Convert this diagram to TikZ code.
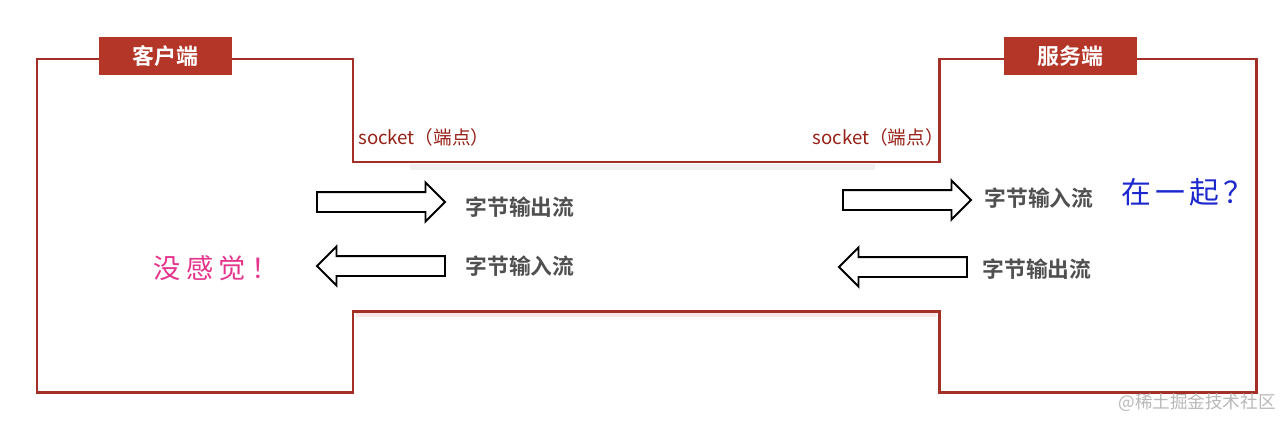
\documentclass[tikz,border=0pt]{standalone}
\usepackage{fontspec}
\setmainfont{Noto Sans CJK SC}[BoldFont={Noto Sans CJK SC Bold}]
\usetikzlibrary{shapes.arrows}
\definecolor{frameRed}{RGB}{163,48,38}
\definecolor{tagRed}{RGB}{180,54,40}
\definecolor{socketRed}{RGB}{150,32,22}
\definecolor{streamGray}{RGB}{80,80,80}
\definecolor{notePink}{RGB}{228,52,140}
\definecolor{noteBlue}{RGB}{28,40,205}
\tikzset{
	tagbox/.style={fill=tagRed, text=white, font=\fontsize{12.5}{14}\selectfont\bfseries, minimum width=2.66cm, minimum height=0.76cm, inner sep=0pt},
	blockarrow/.style={draw=black, line width=1.1pt, fill=white, single arrow, single arrow head extend=0.19cm, minimum height=2.56cm, inner sep=0.18cm, outer sep=0pt, anchor=tail},
	streamtext/.style={text=streamGray, font=\fontsize{12.4}{14}\selectfont\bfseries, inner sep=0pt},
	sockettext/.style={text=socketRed, font=\fontsize{10.6}{12}\selectfont, inner sep=0pt}
}

\begin{document}
\begin{tikzpicture}[x=0.02cm, y=-0.02cm]
			%%%%% START %%%%%
			\useasboundingbox (0, 0) rectangle (1285, 420);
			
			% faint shadows under the channel lines
			\draw[line width=3pt, gray!12] (410, 167) -- (875, 167);
			\draw[line width=2pt, red!10] (356, 315) -- (936, 315);
			
			% outline of client, channel and server
			\draw[line width=1.7pt, color=frameRed, line join=miter]
				(353, 162) -- (353, 59) -- (37, 59) -- (37, 392) -- (353, 392) -- (353, 311)
				-- (939, 311) -- (939, 392) -- (1256, 392) -- (1256, 59) -- (939, 59) -- (939, 162) -- cycle;
			
			\node[tagbox] (clientTag) at (165.5, 56) {客户端};
			\node[tagbox] (serverTag) at (1070.5, 56) {服务端};
			
			\node[sockettext, anchor=west] (clientSocket) at (358, 137) {socket（端点）};
			\node[sockettext, anchor=east] (serverSocket) at (944, 137) {socket（端点）};
			
			% client side streams
			\node[blockarrow] (outArrowC) at (317, 202) {};
			\node[blockarrow, shape border rotate=180] (inArrowC) at (445, 266) {};
			\node[streamtext] (outTextC) at (520, 207) {字节输出流};
			\node[streamtext] (inTextC) at (520, 266) {字节输入流};
			
			% server side streams
			\node[blockarrow] (inArrowS) at (843, 200) {};
			\node[blockarrow, shape border rotate=180] (outArrowS) at (967, 267) {};
			\node[streamtext] (inTextS) at (1039, 198) {字节输入流};
			\node[streamtext] (outTextS) at (1037, 269) {字节输出流};
			
			\node[text=notePink, font=\fontsize{15.5}{17}\selectfont\addfontfeature{LetterSpace=20}] (clientNote) at (216, 268) {没感觉！};
			\node[text=noteBlue, font=\fontsize{17}{19}\selectfont\addfontfeature{LetterSpace=14}] (serverNote) at (1187, 192) {在一起？};
			
			\node[text=black!28, font=\fontsize{10}{12}\selectfont, inner sep=0pt] (markText) at (1197, 403) {@稀土掘金技术社区};
			
			%%%%% END %%%%%
\end{tikzpicture}
\end{document}
